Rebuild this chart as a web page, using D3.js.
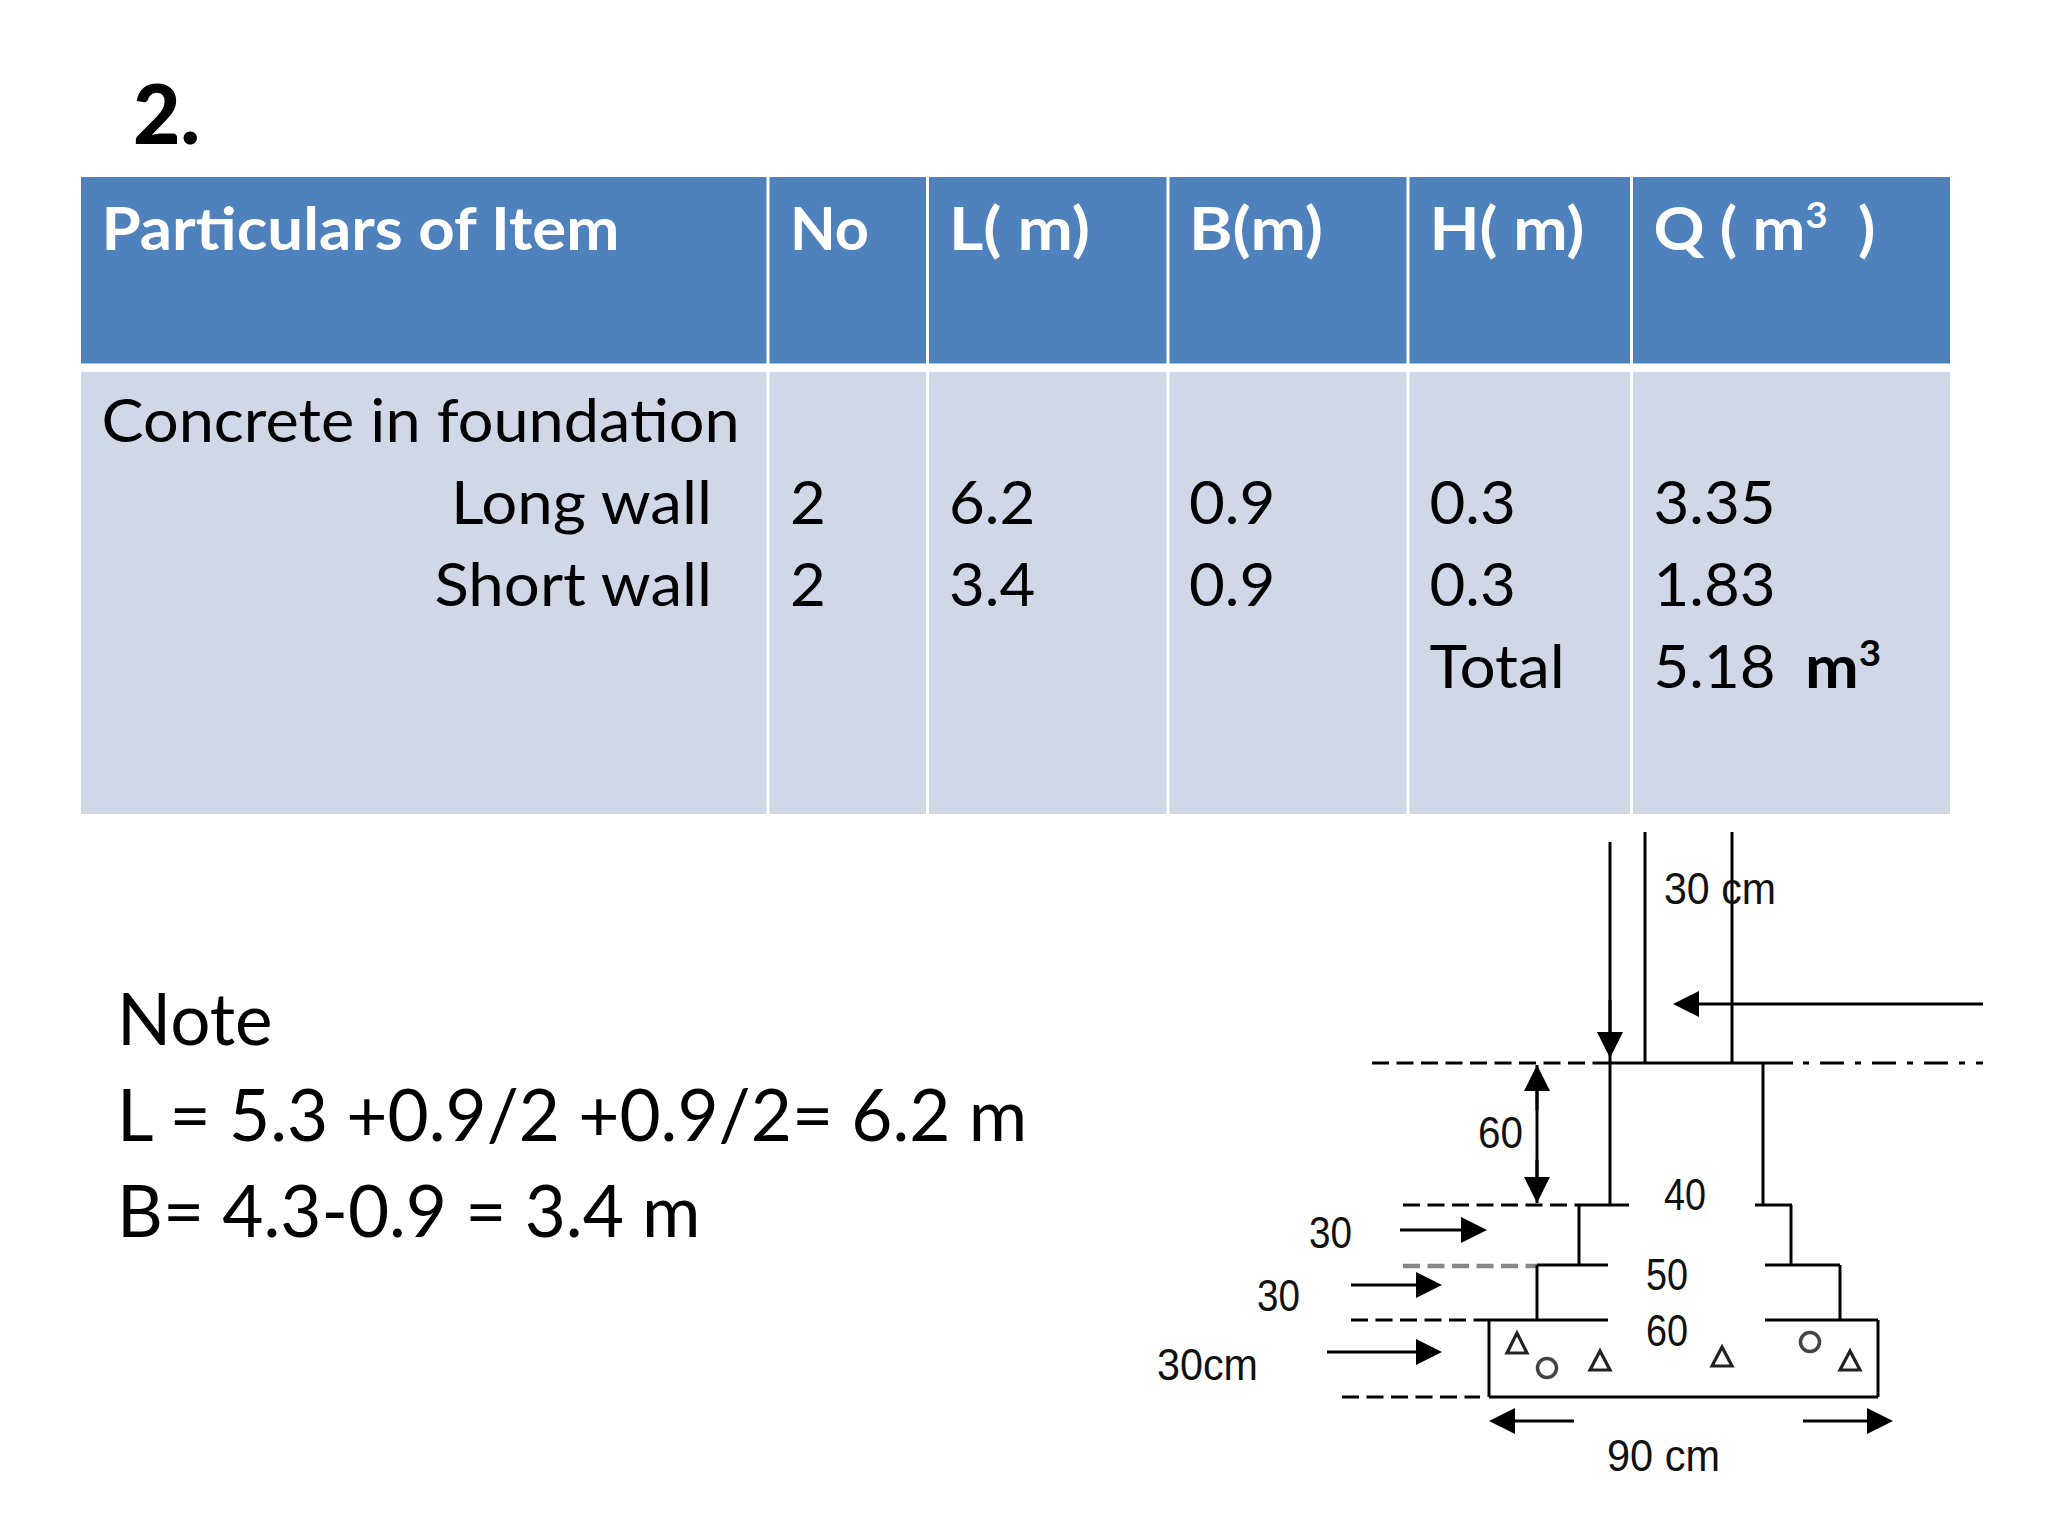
<!DOCTYPE html>
<html>
<head>
<meta charset="utf-8">
<script src="https://cdn.jsdelivr.net/npm/d3@7"></script>
<style>
  html, body { margin: 0; background: #fff; }
  text { white-space: pre; }
  .tbl { font-family: Lato, "Open Sans", sans-serif; }
  .sketch { font-family: "Liberation Sans", sans-serif; font-size: 44px; fill: #111; }
</style>
</head>
<body>
<div id="chart"></div>
<script>
// table content, ^ marks a superscript
let columns = ['Particulars of Item', 'No', 'L( m)', 'B(m)', 'H( m)', 'Q ( m^3^  )'];
let rows = ['title', 'long', 'short', 'total'];
let rowLabels = ['Concrete in foundation', 'Long wall', 'Short wall', ''];
let noValues = ['', '2', '2', ''];
let lengths = ['', '6.2', '3.4', ''];
let breadths = ['', '0.9', '0.9', ''];
let heights = ['', '0.3', '0.3', 'Total'];
let quantities = ['', '3.35', '1.83', '5.18'];
let totalUnit = 'm^3^';
let noteLines = ['Note', 'L = 5.3 +0.9/2 +0.9/2= 6.2 m', 'B= 4.3-0.9 = 3.4 m'];

// column edges and header text widths
let colEdges = [79.5, 768, 927.5, 1168, 1408, 1631.5, 1951.5];
let colTextX = [101.5, 790, 949, 1189, 1429.5, 1653.5];
let headerWidths = [518, 79, 141, 134, 155, 222];

// sketch geometry, in page pixels of the reference: [x1, y1, x2, y2]
let solidLines = [
  [1610, 842, 1610, 1205], [1645, 832, 1645, 1063], [1732, 832, 1732, 1063], [1763, 1063, 1763, 1205],
  [1610, 1063, 1793, 1063],
  [1577, 1205, 1629, 1205], [1755, 1205, 1792, 1205], [1579, 1205, 1579, 1265], [1791, 1205, 1791, 1265],
  [1537, 1265, 1608, 1265], [1765, 1265, 1840, 1265], [1537, 1265, 1537, 1320], [1840, 1265, 1840, 1320],
  [1477, 1320, 1608, 1320], [1765, 1320, 1878, 1320],
  [1489, 1320, 1489, 1397], [1489, 1397, 1878, 1397], [1878, 1320, 1878, 1397],
  [1537, 1065, 1537, 1203]
];
let dashedLines = [[1372, 1063, 1610, 1063], [1403, 1205, 1577, 1205], [1351, 1320, 1477, 1320], [1342, 1397, 1480, 1397]];
let greyDashedLines = [[1403, 1266, 1537, 1266]];
let dashDotLines = [[1803, 1063, 1983, 1063]];
// arrows: tail x/y, tip x/y
let arrows = [
  [1610, 1000, 1610, 1058], [1983, 1004, 1673, 1004], [1537, 1110, 1537, 1065], [1537, 1160, 1537, 1203],
  [1400, 1230, 1487, 1230], [1351, 1285, 1442, 1285], [1327, 1352, 1442, 1352],
  [1574, 1421, 1489, 1421], [1803, 1421, 1893, 1421]
];
// aggregate marks
let triangles = [[1517, 1333, 1353], [1600, 1351, 1370], [1722, 1347, 1366], [1850, 1351, 1370]];
let stones = [[1547, 1368], [1810, 1342]];
// dimension labels: text, left x, baseline, width
let dimLabels = [
  ['30 cm', 1664, 904, 112], ['60', 1478, 1148, 45], ['40', 1664, 1210, 42], ['30', 1309, 1248, 43],
  ['50', 1646, 1290, 42], ['30', 1257, 1311, 43], ['60', 1646, 1346, 42], ['30cm', 1157, 1380, 101], ['90 cm', 1607, 1471, 113]
];

let svgWidth = 2048;
let svgHeight = 1536;

let svg = d3.select('#chart').append('svg')
  .attr('width', svgWidth)
  .attr('height', svgHeight);

// scales
let colLeft = d3.scaleOrdinal().domain(columns).range(colEdges.slice(0, 6));
let colRight = d3.scaleOrdinal().domain(columns).range(colEdges.slice(1));
let colText = d3.scaleOrdinal().domain(columns).range(colTextX);
let rowY = d3.scalePoint().domain(rows).range([442, 688]);
let noteY = d3.scalePoint().domain(noteLines).range([1045, 1237]);
let sx = d3.scaleLinear().domain([1100, 2000]).range([1100, 2000]);
let sy = d3.scaleLinear().domain([800, 1500]).range([800, 1500]);

let headerTop = 177, headerBottom = 363.5, bodyTop = 372, bodyBottom = 814;

// Lato stands in for the slide font, so each string gets stretched to size
function putText(g, str, x, y, size, weight, fill, squeeze, anchor) {
  let t = g.append('text')
    .attr('class', 'tbl')
    .attr('font-size', size)
    .attr('font-weight', weight)
    .attr('fill', fill)
    .attr('text-anchor', anchor || 'start');
  str.split('^').forEach((part, i) => {
    let sup = i % 2 === 1;
    let span = t.append('tspan').text(part);
    if (sup) span.attr('font-size', 36).attr('dy', -22);
    if (!sup && i > 0) span.attr('dy', 22);
  });
  t.attr('transform', `translate(${x}, ${y}) scale(${squeeze}, 1)`);
  return t;
}

function fitText(t, x, y, width) {
  let k = width / t.node().getComputedTextLength();
  t.attr('transform', `translate(${x}, ${y}) scale(${k}, 1)`);
}

let table = svg.append('g');

table.selectAll('.head')
  .data(columns)
  .enter()
  .append('rect')
  .attr('class', 'head')
  .attr('x', d => colLeft(d) + 1.5)
  .attr('y', headerTop)
  .attr('width', d => colRight(d) - colLeft(d) - 3)
  .attr('height', headerBottom - headerTop)
  .attr('fill', '#4f81bd');

table.selectAll('.body')
  .data(columns)
  .enter()
  .append('rect')
  .attr('class', 'body')
  .attr('x', d => colLeft(d) + 1.5)
  .attr('y', bodyTop)
  .attr('width', d => colRight(d) - colLeft(d) - 3)
  .attr('height', bodyBottom - bodyTop)
  .attr('fill', '#d0d8e8');

columns.forEach((c, i) => {
  let t = putText(table, c, colText(c), 250, 60, 700, '#fff', 1);
  fitText(t, colText(c), 250, headerWidths[i]);
});

// body cells, column by column
let cellColumns = [noValues, lengths, breadths, heights, quantities];
rows.forEach((r, i) => {
  if (i === 0) {
    putText(table, rowLabels[i], colText(columns[0]), rowY(r), 60, 400, '#000', 1.05);
  } else if (rowLabels[i]) {
    putText(table, rowLabels[i], 712, rowY(r), 60, 400, '#000', 1.06, 'end');
  }
  cellColumns.forEach((vals, j) => {
    if (vals[i]) putText(table, vals[i], colText(columns[j + 1]), rowY(r), 60, 400, '#000', vals[i] === 'Total' ? 1.065 : 1.03);
  });
});
putText(table, totalUnit, 1805, rowY('total'), 60, 700, '#000', 1.07);

putText(svg, '2.', 133, 144, 82, 900, '#000', 1.0);

noteLines.forEach(t => putText(svg, t, 117, noteY(t), 72, 400, '#000', 0.987));

// footing sketch
let sketch = svg.append('g');

function drawLines(data, colour, dash, width) {
  sketch.append('g').selectAll('line')
    .data(data)
    .enter()
    .append('line')
    .attr('x1', d => sx(d[0]))
    .attr('y1', d => sy(d[1]))
    .attr('x2', d => sx(d[2]))
    .attr('y2', d => sy(d[3]))
    .attr('stroke', colour)
    .attr('stroke-width', width)
    .attr('stroke-dasharray', dash);
}

drawLines(dashedLines, '#000', '17 7.5', 3);
drawLines(greyDashedLines, '#888', '17 7.5', 4.5);
drawLines(dashDotLines, '#000', '6 11 24 11', 3);
drawLines(solidLines, '#000', null, 3);

let arrowLen = 26, arrowHalf = 13;
arrows.forEach(a => {
  let x1 = sx(a[0]), y1 = sy(a[1]), x2 = sx(a[2]), y2 = sy(a[3]);
  let len = Math.hypot(x2 - x1, y2 - y1);
  let ux = (x2 - x1) / len, uy = (y2 - y1) / len;
  let bx = x2 - ux * arrowLen, by = y2 - uy * arrowLen;
  sketch.append('line')
    .attr('x1', x1).attr('y1', y1).attr('x2', bx).attr('y2', by)
    .attr('stroke', '#000').attr('stroke-width', 3);
  sketch.append('path')
    .attr('d', d3.line()([[x2, y2], [bx - uy * arrowHalf, by + ux * arrowHalf], [bx + uy * arrowHalf, by - ux * arrowHalf]]) + 'Z')
    .attr('fill', '#000');
});

sketch.selectAll('.aggregate')
  .data(triangles)
  .enter()
  .append('path')
  .attr('class', 'aggregate')
  .attr('d', d => d3.line()([[sx(d[0]), sy(d[1])], [sx(d[0]) - 10, sy(d[2])], [sx(d[0]) + 10, sy(d[2])]]) + 'Z')
  .attr('fill', 'none')
  .attr('stroke', '#222')
  .attr('stroke-width', 3.2);

sketch.selectAll('.stone')
  .data(stones)
  .enter()
  .append('circle')
  .attr('class', 'stone')
  .attr('cx', d => sx(d[0]))
  .attr('cy', d => sy(d[1]))
  .attr('r', 9.5)
  .attr('fill', 'none')
  .attr('stroke', '#444')
  .attr('stroke-width', 3.5);

sketch.selectAll('.dim')
  .data(dimLabels)
  .enter()
  .append('text')
  .attr('class', 'dim sketch')
  .attr('x', d => sx(d[1]))
  .attr('y', d => sy(d[2]))
  .attr('textLength', d => d[3])
  .attr('lengthAdjust', 'spacingAndGlyphs')
  .text(d => d[0]);
</script>
</body>
</html>
